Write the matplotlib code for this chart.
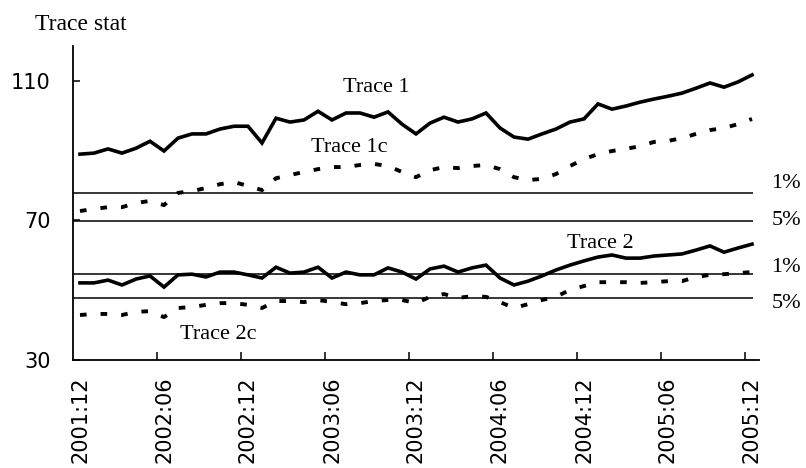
import numpy as np
import matplotlib
matplotlib.use("Agg")
import matplotlib.pyplot as plt

# monthly trace statistics, 2001:12 .. 2005:12
trace1 = [89.0, 89.3, 90.5, 89.3, 90.7, 92.7, 89.9, 93.6, 94.8, 94.8,
          96.2, 97.0, 97.0, 92.2, 99.3, 98.2, 98.8, 101.3, 98.8, 100.8,
          100.8, 99.6, 101.1, 97.6, 94.8, 97.9, 99.6, 98.2, 99.1, 100.8,
          96.5, 93.9, 93.3, 94.8, 96.2, 98.2, 99.1, 103.4, 101.9, 102.8,
          103.9, 104.8, 105.6, 106.5, 107.9, 109.4, 108.2, 109.7, 111.7]
trace1c = [72.7, 73.3, 73.8, 73.8, 75.0, 75.6, 74.4, 77.9, 78.4, 79.3,
           80.4, 81.0, 79.9, 78.7, 82.1, 83.0, 83.9, 84.7, 85.3, 85.3,
           85.9, 86.2, 85.6, 83.9, 82.4, 84.4, 85.3, 85.0, 85.6, 85.9,
           84.7, 82.4, 81.6, 81.9, 83.3, 85.6, 87.6, 89.0, 89.9, 90.5,
           91.3, 92.5, 92.8, 93.6, 94.8, 95.9, 96.5, 97.6, 99.1]
trace2 = [52.1, 52.1, 52.9, 51.5, 53.2, 54.1, 50.9, 54.4, 54.6, 53.8,
          55.2, 55.2, 54.4, 53.5, 56.6, 54.9, 55.2, 56.6, 53.5, 55.2,
          54.4, 54.4, 56.4, 55.2, 53.2, 56.1, 56.9, 55.2, 56.4, 57.2,
          53.5, 51.5, 52.6, 54.1, 55.8, 57.2, 58.4, 59.5, 60.1, 59.2,
          59.2, 59.8, 60.1, 60.4, 61.5, 62.7, 60.9, 62.1, 63.2]
trace2c = [42.9, 43.2, 43.2, 42.9, 43.8, 44.0, 42.3, 44.9, 45.2, 45.8,
           46.3, 46.3, 45.8, 44.9, 46.9, 46.9, 46.6, 47.2, 46.6, 46.0,
           46.3, 46.9, 47.2, 47.2, 46.3, 48.1, 48.9, 47.8, 48.3, 48.1,
           46.6, 44.9, 46.0, 47.2, 48.1, 50.1, 51.2, 52.3, 52.3, 52.3,
           52.1, 52.3, 52.6, 52.6, 53.8, 54.4, 54.6, 54.9, 55.2]

# critical values (1% / 5%) for the two tests
crit1 = [77.82, 69.82]
crit2 = [54.68, 47.86]
crit_labels = ["1%", "5%"]

tick_labels = ["2001:12", "2002:06", "2002:12", "2003:06", "2003:12",
               "2004:06", "2004:12", "2005:06", "2005:12"]

serif = "Liberation Serif"

fig = plt.figure(figsize=(8.06, 4.68), dpi=100)
ax = fig.add_axes([73 / 806, 108 / 468, 686 / 806, 314 / 468])

x = np.arange(len(trace1))
dotted = (0, (1.7, 3.6))
ax.plot(x, trace1, color="black", lw=2.6, solid_joinstyle="miter")
ax.plot(x, trace2, color="black", lw=2.6, solid_joinstyle="miter")
ax.plot(x, trace1c, color="black", lw=2.8, linestyle=dotted, dash_capstyle="butt")
ax.plot(x, trace2c, color="black", lw=2.8, linestyle=dotted, dash_capstyle="butt")

for v in crit1 + crit2:
    ax.hlines(v, -0.5, 48.1, color="black", lw=1.1)

ax.set_xlim(-0.5, 48.5)
ax.set_ylim(30, 120)

# labels at months, tick marks on category boundaries
ax.set_xticks(np.arange(0, 49, 6))
ax.set_xticklabels(tick_labels, rotation=90, fontsize=15, family="DejaVu Sans")
ax.tick_params(axis="x", length=0, pad=12)
ax.set_xticks(np.arange(5.5, 48, 6), minor=True)
ax.tick_params(axis="x", which="minor", direction="in", length=6, width=1.1)

ax.set_yticks([30, 70, 110])
ax.tick_params(axis="y", direction="in", length=5, width=1.1, labelsize=15, pad=16)

for side in ["top", "right"]:
    ax.spines[side].set_visible(False)
for side in ["left", "bottom"]:
    ax.spines[side].set_linewidth(1.3)

# series names
ax.text(21.2, 108.2, "Trace 1", ha="center", va="center", fontsize=16, family=serif)
ax.text(19.2, 91.0, "Trace 1c", ha="center", va="center", fontsize=16, family=serif)
ax.text(37.2, 63.5, "Trace 2", ha="center", va="center", fontsize=16, family=serif)
ax.text(9.9, 37.2, "Trace 2c", ha="center", va="center", fontsize=16, family=serif)

# significance level labels beside the critical lines
for v, lab in zip([80.7, 70.1, 56.4, 46.3], crit_labels * 2):
    ax.text(49.4, v, lab, ha="left", va="center", fontsize=16, family=serif, clip_on=False)

fig.text(35 / 806, 1 - 25 / 468, "Trace stat", ha="left", va="center", fontsize=17, family=serif)

fig.savefig("out.png", dpi=100)
